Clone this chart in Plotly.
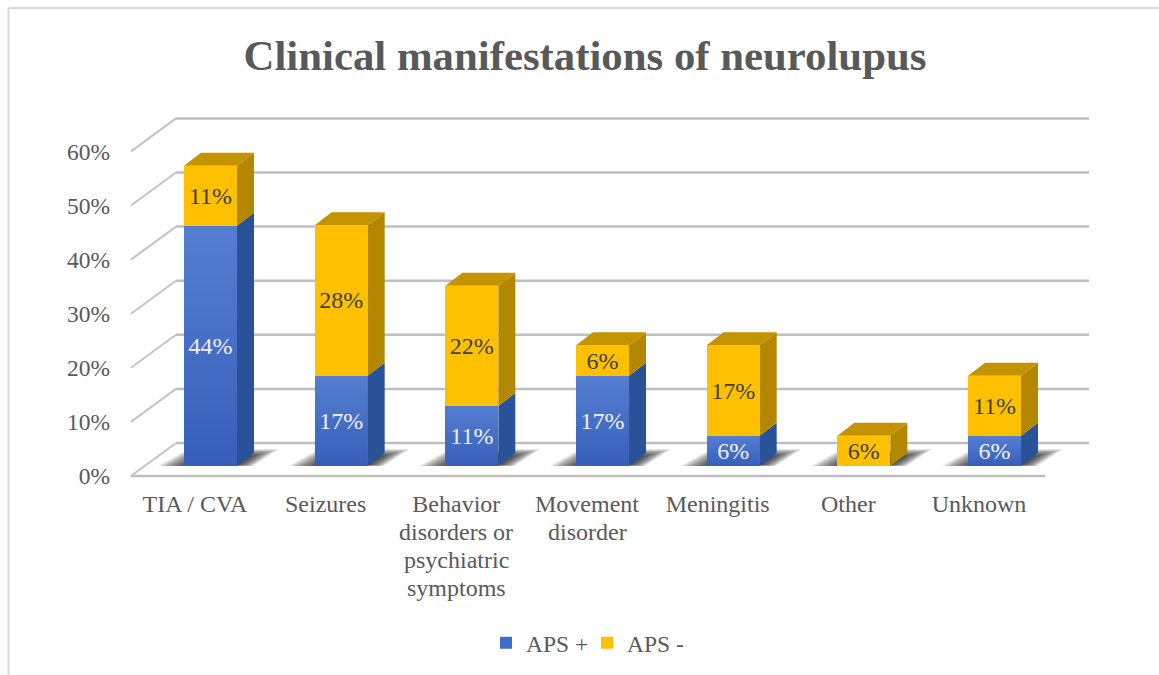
import plotly.graph_objects as go

categories = ["TIA / CVA", "Seizures", "Behavior<br>disorders or<br>psychiatric<br>symptoms",
              "Movement<br>disorder", "Meningitis", "Other", "Unknown"]
aps_pos = [44.4, 16.7, 11.1, 16.7, 5.6, 0, 5.6]
aps_neg = [11.1, 27.8, 22.2, 5.6, 16.7, 5.6, 11.1]
y_ticks = [0, 10, 20, 30, 40, 50, 60]
y_tick_labels = ["0%", "10%", "20%", "30%", "40%", "50%", "60%"]

W, H = 1159, 675
FONT = "Liberation Serif"
BLUE, YEL = "#3E6CCB", "#FFC000"
BLUE_S, YEL_S, YEL_T = "#2A5299", "#B38700", "#C49400"
GRID = "#BFBFBF"
XU, YU = 130.67, 5.41       # pixels per data unit
X0, Y0 = 210.5, 466         # pixel of x=0, y=0
PL, PR, PT, PB = 120, 1100, 100, 490
BW = 53 / XU
DX, DY = 17 / XU, 13 / YU   # bar depth
def px(p): return (p - X0) / XU
def py(p): return (Y0 - p) / YU
def poly(pts): return "M" + "L".join(f"{a:.4f},{b:.4f}" for a, b in pts) + "Z"

shapes = []
def add_line(x0, y0, x1, y1, color=GRID, w=2.5):
    shapes.append(dict(type="line", xref="x", yref="y", layer="below", x0=x0, y0=y0, x1=x1, y1=y1,
                       line=dict(color=color, width=w)))
def add_poly(pts, color, op=1):
    shapes.append(dict(type="path", xref="x", yref="y", layer="below", path=poly(pts),
                       fillcolor=color, opacity=op, line=dict(width=0)))

# walls and floor
back_off = py(443)
for v in y_ticks:
    yb = v + back_off
    add_line(px(131), yb - 33 / YU, px(176), yb, "#C4C4C4", 2)
    add_line(px(176), yb, px(1089), yb)
add_line(px(131), py(476), px(1045), py(476))

# bar shadows on the floor
for i in range(len(categories)):
    xl, xr = i - BW / 2, i + BW / 2
    for k in range(12):
        t = k / 11
        add_poly([(xl - (26 - 26 * t) / XU, py(466)),
                  (xl + (4 + 14 * t) / XU, py(449 + 7 * t)),
                  (xr + (42 - 26 * t) / XU, py(449 + 7 * t)),
                  (xr + (16 - 14 * t) / XU, py(466 - 1 * t))], "#000000", 0.085)

# bar sides and tops
for i, (a, b) in enumerate(zip(aps_pos, aps_neg)):
    xl, xr = i - BW / 2, i + BW / 2
    if a:
        add_poly([(xr, 0), (xr + DX, DY), (xr + DX, a + DY), (xr, a)], BLUE_S)
    add_poly([(xr, a), (xr + DX, a + DY), (xr + DX, a + b + DY), (xr, a + b)], YEL_S)
    add_poly([(xl, a + b), (xl + DX, a + b + DY), (xr + DX, a + b + DY), (xr, a + b)], YEL_T)

idx = list(range(len(categories)))
def lab(vals): return [f"{v:.0f}%" if v else "" for v in vals]

fig = go.Figure()
fig.add_bar(x=idx, y=aps_pos, name="APS +", width=BW, marker=dict(color=BLUE, line_width=0),
            text=lab(aps_pos), textposition="inside", insidetextanchor="middle", textangle=0,
            textfont=dict(family=FONT, size=24, color="white"), constraintext="none",
            hoverinfo="skip")
fig.add_bar(x=idx, y=aps_neg, name="APS -", width=BW, marker=dict(color=YEL, line_width=0),
            text=lab(aps_neg), textposition="inside", insidetextanchor="middle", textangle=0,
            textfont=dict(family=FONT, size=24, color="#404040"), constraintext="none",
            hoverinfo="skip")

# soft vertical shading on the blue fronts
for i, a in enumerate(aps_pos):
    if a:
        fig.add_scatter(x=[i - BW / 2, i + BW / 2, i + BW / 2, i - BW / 2, i - BW / 2],
                        y=[0, 0, a, a, 0], mode="none", fill="toself", showlegend=False,
                        hoverinfo="skip",
                        fillgradient=dict(type="vertical",
                                          colorscale=[[0, "rgba(0,0,60,0.12)"], [1, "rgba(255,255,255,0.12)"]]))

# holder trace for the label axes, which sit on the front edge of the floor
fig.add_scatter(x=idx, y=[0] * len(idx), xaxis="x2", yaxis="y2", mode="none", showlegend=False, hoverinfo="skip")

label_font = dict(family=FONT, size=23.5, color="#595959")
x_font = dict(family=FONT, size=24, color="#595959")

# category labels: the first line is the axis tick, following lines are set at the reference's tighter leading
first_lines = [c.split("<br>")[0] for c in categories]
annotations = []
for i, c in enumerate(categories):
    for n, line in enumerate(c.split("<br>")[1:], start=1):
        annotations.append(dict(text=line, xref="x2", yref="paper", x=i, y=1 - (504 + 28 * n) / H,
                                xanchor="center", yanchor="middle", showarrow=False, font=x_font))

fig.update_layout(
    width=W, height=H, autosize=False, barmode="stack", paper_bgcolor="white", plot_bgcolor="rgba(0,0,0,0)",
    margin=dict(l=0, r=0, t=0, b=0, pad=0, autoexpand=False), annotations=annotations, shapes=shapes + [
        dict(type="line", xref="paper", yref="paper", x0=8.5 / W, x1=1, y0=1 - 8 / H, y1=1 - 8 / H,
             line=dict(color="#D9D9D9", width=2)),
        dict(type="line", xref="paper", yref="paper", x0=8.5 / W, x1=8.5 / W, y0=0, y1=1 - 8 / H,
             line=dict(color="#D9D9D9", width=2)),
    ],
    title=dict(text="Clinical manifestations of neurolupus", x=585 / W, xanchor="center", y=1 - 55 / H, yanchor="middle",
               font=dict(family=FONT, size=42.8, color="#595959", weight="bold")),
    xaxis=dict(domain=[PL / W, PR / W], range=[px(PL), px(PR)], visible=False, fixedrange=True),
    yaxis=dict(domain=[1 - PB / H, 1 - PT / H], range=[py(PB), py(PT)], visible=False, fixedrange=True),
    xaxis2=dict(domain=[(PL - 15.5) / W, (PR - 15.5) / W], range=[px(PL), px(PR)], anchor="free", position=1 - 487 / H,
                tickmode="array", tickvals=idx, ticktext=first_lines, tickfont=x_font, showgrid=False,
                zeroline=False, showline=False, ticks="", fixedrange=True),
    yaxis2=dict(domain=[1 - 476 / H, 1 - 152 / H], range=[0, 60], anchor="free", position=110 / W, side="left",
                tickmode="array", tickvals=y_ticks, ticktext=y_tick_labels, tickfont=label_font, showgrid=False,
                zeroline=False, showline=False, ticks="", fixedrange=True),
    legend=dict(orientation="h", x=486 / W, xanchor="left", y=1 - 643 / H, yanchor="middle", font=label_font,
                traceorder="normal", bgcolor="rgba(0,0,0,0)", entrywidth=56, entrywidthmode="pixels"),
)
fig.write_html("out.html", config=dict(displayModeBar=False),
               post_script="document.body.style.margin='0';document.documentElement.style.overflow='hidden';")
